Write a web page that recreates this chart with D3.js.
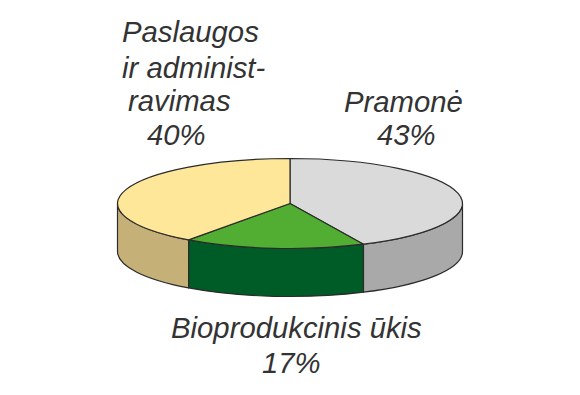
<!DOCTYPE html>
<html>
<head>
<meta charset="utf-8">
<script src="https://cdn.jsdelivr.net/npm/d3@7"></script>
<style>
  html, body { margin: 0; padding: 0; background: #fff; }
  text { font-family: "Liberation Sans", sans-serif; font-style: italic; font-size: 29.3px; fill: #333; }
</style>
</head>
<body>
<div id="svganchor"></div>
<script>
// clockwise from 12 o'clock
const categories = ["Pramonė", "Bioprodukcinis ūkis", "Paslaugos ir administravimas"];
const shares = [43, 17, 40];
const labelLines = [
  ["Pramonė", "43%"],
  ["Bioprodukcinis ūkis", "17%"],
  ["Paslaugos", "ir administ-", "ravimas", "40%"]
];

const width = 580;
const height = 395;
const cx = 290, cy = 203.5;
const rx = 172.5, ry = 45, depth = 48;

const topColors = ["#dadada", "#52ae32", "#ffe79a"];
const sideColors = ["#a9a9a9", "#005c27", "#c5b077"];
const outline = "#2b2b2b";

// one start x per label line, baselines too
const labelX = [
  [344, 377],
  [171, 262],
  [122, 122, 128, 147]
];
const labelY = [
  [112, 145],
  [338, 373],
  [42, 78, 111, 145]
];

const svg = d3.select("#svganchor")
  .append("svg")
  .attr("width", width)
  .attr("height", height)
  .style("display", "block");

const pie = d3.pie().sort(null).value(d => d);
const slices = pie(shares);

const px = a => cx + rx * Math.sin(a);
const py = a => cy - ry * Math.cos(a);

// front wall only runs between 3 and 9 o'clock
const frontStart = Math.PI / 2, frontEnd = 3 * Math.PI / 2;

function wallPath(a0, a1) {
  return "M" + px(a0) + "," + py(a0)
    + "A" + rx + "," + ry + " 0 0 1 " + px(a1) + "," + py(a1)
    + "L" + px(a1) + "," + (py(a1) + depth)
    + "A" + rx + "," + ry + " 0 0 0 " + px(a0) + "," + (py(a0) + depth)
    + "Z";
}

svg.selectAll("path.wall")
  .data(slices)
  .enter()
  .append("path")
    .attr("class", "wall")
    .attr("d", d => wallPath(Math.max(d.startAngle, frontStart), Math.min(d.endAngle, frontEnd)))
    .attr("fill", (d, i) => sideColors[i])
    .attr("stroke", outline)
    .attr("stroke-width", 1.2)
    .attr("stroke-linejoin", "round");

const arc = d3.arc().innerRadius(0).outerRadius(rx);

svg.append("g")
  .attr("transform", "translate(" + cx + "," + cy + ") scale(1," + (ry / rx) + ")")
  .selectAll("path")
  .data(slices)
  .enter()
  .append("path")
    .attr("d", arc)
    .attr("fill", (d, i) => topColors[i])
    .attr("stroke", outline)
    .attr("stroke-width", 1.2)
    .attr("stroke-linejoin", "round")
    .attr("vector-effect", "non-scaling-stroke");

labelLines.forEach(function (lines, i) {
  svg.append("g")
    .attr("aria-label", categories[i])
    .selectAll("text")
    .data(lines)
    .enter()
    .append("text")
      .attr("x", (d, j) => labelX[i][j])
      .attr("y", (d, j) => labelY[i][j])
      .text(d => d);
});
</script>
</body>
</html>
